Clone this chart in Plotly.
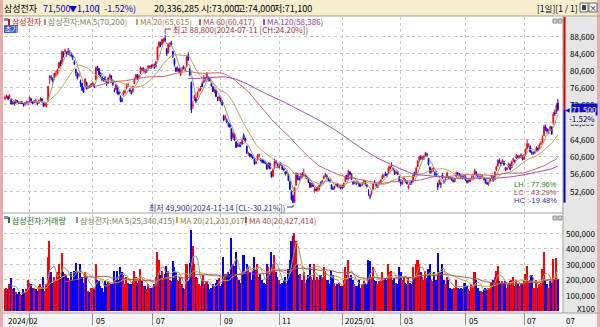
import plotly.graph_objects as go
import pandas as pd

# ---------------- DATA ----------------
# trading days per month, 2024-02 .. 2025-07
month_sizes = [16, 20, 21, 20, 19, 23, 21, 18, 20, 21, 20, 18, 20, 20, 22, 19, 19, 23]

# prices in units of 100 KRW
open_p = [
    741,745,745,745,738,730,733,730,736,731,731,733,729,730,730,734,
    737,740,732,731,736,731,730,738,740,731,724,726,737,790,790,786,790,797,800,812,
    825,822,845,850,845,850,846,842,838,825,808,797,795,780,776,765,770,778,767,768,770,
    774,773,785,815,810,800,790,787,790,780,776,790,793,783,760,762,770,755,745,737,
    750,755,765,772,762,755,756,776,790,795,790,800,810,808,805,804,810,813,817,
    818,818,815,830,862,870,868,875,880,855,848,865,870,850,832,812,808,810,795,806,813,810,815,
    842,810,778,725,740,742,745,760,762,775,778,788,790,790,785,775,768,758,760,740,740,
    740,733,700,695,690,680,680,670,650,658,640,630,633,634,635,655,648,630,
    612,612,607,605,600,590,598,608,600,598,595,592,588,580,590,570,560,580,595,588,
    580,590,585,578,570,568,565,548,525,515,500,540,566,555,555,565,562,560,560,555,545,
    538,540,525,530,528,530,545,545,555,562,560,555,550,540,532,533,538,542,535,537,
    535,535,548,562,555,570,565,548,545,545,548,545,540,540,545,548,540,525,
    515,520,530,548,543,535,541,548,555,561,565,565,568,578,585,578,573,568,568,558,
    546,543,553,551,548,533,543,548,548,568,568,583,598,605,601,603,608,611,601,581,
    571,573,565,568,543,543,543,563,548,553,558,558,558,556,551,548,561,568,565,563,558,558,
    560,550,548,552,555,558,565,570,562,558,556,560,555,553,545,543,548,558,558,
    552,574,584,597,592,592,594,580,577,582,587,580,597,597,602,607,605,607,607,
    600,610,625,632,630,615,614,615,620,625,625,635,640,655,675,670,665,668,675,685,708,710,730,
]
high_p = [
    748,750,748,751,741,735,735,739,737,735,734,735,730,733,736,735,
    745,741,734,737,740,733,738,744,742,733,731,730,769,795,795,790,800,805,810,826,
    830,852,850,857,850,858,853,848,842,830,810,802,800,785,777,768,788,780,771,772,777,
    780,775,815,817,812,801,792,788,793,782,790,798,795,785,765,775,772,758,748,743,
    760,762,776,776,765,760,770,790,798,797,797,815,813,814,810,810,818,818,820,
    822,822,828,862,874,873,880,882,888,858,870,872,875,852,835,815,815,812,812,815,818,815,842,
    848,812,780,735,750,745,757,765,770,780,795,790,802,792,790,778,770,764,762,745,748,
    744,735,703,703,695,686,684,672,664,660,642,638,638,640,648,660,650,632,
    617,614,612,609,601,597,612,613,602,600,598,596,590,593,592,572,578,601,598,590,
    590,593,587,580,572,575,567,550,528,518,535,570,568,560,568,570,578,565,562,557,547,
    545,545,535,535,536,541,548,552,562,568,565,557,553,542,537,538,545,544,540,539,
    540,546,562,564,575,572,567,550,550,549,550,547,543,546,553,550,542,530,
    520,527,545,551,545,541,549,553,565,565,571,568,583,585,593,581,575,573,571,561,
    553,551,560,553,550,541,548,551,565,571,583,598,608,610,608,609,617,615,603,583,
    578,581,571,573,546,553,548,568,553,556,571,561,560,558,553,556,571,570,568,565,560,565,
    562,552,553,553,562,565,578,572,565,560,562,564,558,554,548,548,556,563,560,
    572,584,599,602,594,600,596,582,582,592,590,597,604,599,612,610,609,614,608,
    612,625,645,637,632,620,618,620,630,628,636,642,655,680,680,672,670,678,676,710,715,730,740,
]
low_p = [
    737,741,737,740,727,727,724,729,730,728,728,728,722,724,727,725,
    732,730,727,730,732,725,729,735,732,722,722,720,735,775,783,778,785,792,795,810,
    815,820,836,845,838,842,840,836,830,818,793,785,790,768,758,755,768,762,763,765,767,
    770,765,783,805,795,790,781,780,780,770,775,787,782,770,755,760,750,748,732,732,
    748,752,762,768,755,750,755,775,785,784,787,798,804,803,798,800,808,810,810,
    813,810,812,828,858,860,865,870,872,840,846,860,862,835,815,802,803,800,793,803,808,805,814,
    828,792,707,717,735,730,743,755,758,768,776,780,788,780,780,768,756,753,744,735,735,
    732,724,688,690,683,674,672,642,648,643,626,628,628,628,633,645,640,612,
    608,604,604,600,587,588,597,604,595,590,590,588,575,578,576,557,558,578,588,580,
    578,585,575,572,562,565,549,528,504,499,499,538,551,550,553,557,560,555,554,545,533,
    534,535,522,525,525,527,538,543,553,558,555,548,545,530,528,530,536,535,532,530,
    530,534,546,552,553,562,551,540,542,540,543,535,535,538,543,538,534,515,
    507,516,528,543,536,533,539,545,553,556,561,558,566,573,581,573,563,565,563,546,
    538,541,551,545,541,530,540,541,546,559,566,581,593,598,598,598,606,605,585,566,
    568,570,561,561,528,539,533,553,543,548,556,553,553,550,546,546,558,563,561,555,553,556,
    550,543,545,546,553,555,563,561,557,553,554,558,550,543,540,538,546,555,548,
    551,572,582,590,584,589,585,572,574,580,574,579,592,590,600,602,602,605,597,
    598,608,622,628,615,610,610,612,618,618,623,632,638,653,665,660,658,665,656,680,700,705,711,
]
close_p = [
    743,747,740,748,728,730,728,738,733,730,731,729,728,729,732,734,
    744,732,729,736,733,729,736,741,733,723,728,728,769,793,789,782,799,798,808,824,
    820,850,841,853,845,845,846,841,837,822,800,789,796,776,761,755,786,763,767,767,775,
    776,767,813,813,797,792,784,783,782,774,789,796,783,774,759,772,752,752,735,735,
    757,757,774,773,757,752,769,786,796,786,793,812,810,811,805,806,816,816,815,
    818,812,826,860,871,864,878,878,876,844,867,867,867,839,820,804,808,804,809,810,812,811,839,
    831,796,714,725,747,734,755,760,765,768,790,786,799,783,783,770,757,759,745,740,744,
    735,726,691,698,686,680,675,646,660,644,627,632,631,632,645,647,642,615,
    613,606,606,603,589,593,608,610,597,592,592,590,577,591,578,559,576,596,592,583,
    587,587,576,575,566,570,550,530,506,499,535,567,553,553,564,560,563,563,556,546,535,
    541,537,530,528,534,539,542,549,560,565,560,549,549,531,530,535,544,536,536,532,
    534,544,559,554,573,565,553,543,547,545,547,537,539,543,550,540,537,524,
    514,523,543,547,538,538,546,551,561,561,563,563,580,583,586,576,566,569,566,548,
    543,549,556,548,543,538,542,545,563,563,579,595,605,603,603,606,614,610,588,569,
    573,579,564,564,535,551,542,556,547,553,568,556,557,552,548,554,568,566,565,557,556,562,
    552,546,550,549,558,560,574,563,560,556,560,561,553,545,543,545,554,560,549,
    570,582,597,594,590,598,587,576,578,590,576,594,600,596,608,604,606,610,600,
    608,623,636,633,617,614,614,616,626,622,633,637,650,675,670,665,666,675,659,704,706,726,715,
]
# volume in units of 100,000 shares
volume_p = [
    140,150,140,170,210,140,150,120,110,120,110,100,140,120,140,200,
    180,170,150,150,140,130,160,170,150,220,130,170,350,450,250,180,220,190,250,300,
    220,370,250,240,230,210,200,250,200,260,310,250,200,300,220,180,250,220,130,120,150,
    150,140,300,200,190,160,150,120,190,170,190,180,170,180,260,200,260,200,280,250,
    230,170,220,180,170,170,190,260,220,180,200,270,190,160,160,140,170,150,150,
    150,170,220,380,330,230,260,210,240,290,260,200,190,320,280,250,200,190,220,170,150,140,300,
    200,310,520,420,300,220,210,170,160,200,230,170,190,170,140,150,170,160,180,200,210,
    160,170,350,240,240,250,240,470,300,290,380,220,200,180,250,360,250,300,
    280,250,200,260,350,270,300,220,240,200,180,170,300,280,240,380,300,360,250,220,
    200,170,180,200,220,180,270,330,450,480,500,450,300,230,240,200,250,180,200,230,300,
    220,200,300,200,220,200,230,210,280,260,200,200,170,260,230,180,160,170,180,160,
    160,200,280,230,330,220,230,200,170,160,160,200,150,170,190,180,170,330,
    320,220,280,200,190,170,190,200,250,200,210,200,300,250,260,200,210,180,170,280,
    250,200,220,180,170,220,180,170,280,220,300,330,300,250,220,200,260,210,270,300,
    200,190,250,200,370,250,250,300,200,170,220,200,150,140,140,150,200,150,140,150,140,180,
    180,160,140,130,170,160,250,200,150,130,130,120,140,150,140,150,150,180,200,
    220,260,290,190,180,195,180,190,150,180,190,200,220,160,200,170,160,170,170,
    200,240,290,190,200,230,150,150,200,150,170,180,270,380,200,170,150,190,190,335,200,339,203.36,
]

price_ticks = [52600, 56600, 60600, 64600, 68600, 72600, 76600, 80600, 84600, 88600]
vol_ticks = [100000, 200000, 300000, 400000, 500000]
label_months = [0, 3, 5, 7, 9, 11, 13, 15, 17]
x_labels = ["2024/02", "05", "07", "09", "11", "2025/01", "03", "05", "07"]
grid_months = [1, 3, 5, 7, 9, 11, 13, 15, 17]

# ---------------- PREP ----------------
N = len(close_p)
xi = list(range(N))
O = [v * 100 for v in open_p]
H = [v * 100 for v in high_p]
Lw = [v * 100 for v in low_p]
C = [v * 100 for v in close_p]
V = [v * 1000 for v in volume_p]          # chart unit: x100 shares

starts = [0]
for s in month_sizes[:-1]:
    starts.append(starts[-1] + s)

cs = pd.Series(C)
vs = pd.Series(V)
ma = {n: cs.rolling(n).mean() for n in (5, 20, 60, 120)}
vma = {n: vs.rolling(n).mean() for n in (5, 20, 40)}

UP, DN = "#FF0000", "#0000FF"
vcol = []
for i in range(N):
    if C[i] > O[i]:
        vcol.append(UP)
    elif C[i] < O[i]:
        vcol.append(DN)
    else:
        vcol.append(UP if i == 0 or C[i] >= C[i - 1] else DN)

FONT = "Noto Sans CJK KR"
LAT = "Liberation Sans"
W_FIG, H_FIG = 600, 327
L, R, T, B = 4, 37, 17, 15
PW = W_FIG - L - R
PH = H_FIG - T - B


def px(x):
    return (x - L) / PW


def py(y):
    return (H_FIG - B - y) / PH


X0, X1 = -0.65, 362.3
P0, P1 = 47723, 93013
V0, V1 = -8000, 625000

MA5C, MA20C, MA60C, MA120C = "#9A9A78", "#C8A05A", "#C86464", "#A050B4"
VMA5C, VMA20C, VMA40C = "#9A9A78", "#D8A040", "#B05050"

fig = go.Figure()
fig.add_trace(go.Candlestick(
    x=xi, open=O, high=H, low=Lw, close=C, xaxis="x", yaxis="y",
    increasing=dict(line=dict(color=UP, width=1), fillcolor=UP),
    decreasing=dict(line=dict(color=DN, width=1), fillcolor=DN),
    whiskerwidth=0, hoverinfo="skip", showlegend=False))
for n, col in ((5, MA5C), (20, MA20C), (60, MA60C), (120, MA120C)):
    fig.add_trace(go.Scatter(x=xi, y=ma[n], mode="lines", line=dict(color=col, width=1),
                             xaxis="x", yaxis="y", hoverinfo="skip", showlegend=False))
fig.add_trace(go.Bar(x=xi, y=V, marker=dict(color=vcol, line=dict(width=0)),
                     xaxis="x", yaxis="y2", hoverinfo="skip", showlegend=False))
for n, col in ((5, VMA5C), (20, VMA20C), (40, VMA40C)):
    fig.add_trace(go.Scatter(x=xi, y=vma[n], mode="lines", line=dict(color=col, width=1),
                             xaxis="x", yaxis="y2", hoverinfo="skip", showlegend=False))

shapes = []


def rect(x0, y0, x1, y1, fill=None, line=None, lw=0, layer="below"):
    shapes.append(dict(type="rect", xref="paper", yref="paper", x0=px(x0), x1=px(x1),
                       y0=py(y1), y1=py(y0), fillcolor=fill, layer=layer,
                       line=dict(color=line or "rgba(0,0,0,0)", width=lw)))


def seg(x0, y0, x1, y1, color, lw=1, layer="above"):
    shapes.append(dict(type="line", xref="paper", yref="paper", x0=px(x0), x1=px(x1),
                       y0=py(y0), y1=py(y1), layer=layer, line=dict(color=color, width=lw)))


ann = []


def txt(x, y, s, color="#000000", size=8, anchor="left", bg=None, family=FONT):
    d = dict(xref="paper", yref="paper", x=px(x), y=py(y), text=s, showarrow=False,
             xanchor=anchor, yanchor="middle", borderpad=0,
             font=dict(family=family, size=size, color=color))
    if bg:
        d["bgcolor"] = bg
    ann.append(d)


def val_y(v):
    return 17 + (P1 - v) / (P1 - P0) * (212 - 17)


def vol_y(v):
    return 214 + (V1 - v) / (V1 - V0) * (312 - 214)


def idx_x(i):
    return L + (i - X0) / (X1 - X0) * PW


# backgrounds
rect(0, 0, 600, 16, fill="#F7EECF")
rect(563, 16, 600, 313, fill="#E6E6E6")
rect(0, 313, 600, 327, fill="#F4F4F4")
rect(0, 0, 3, 327, fill="#E8AEAE")
rect(597, 0, 600, 327, fill="#E8AEAE")
seg(0, 16, 600, 16, "#B0A080")
seg(3, 213, 563, 213, "#A0A0A0")
seg(3, 313, 600, 313, "#A0A0A0")
seg(563, 16, 563, 313, "#A0A0A0")

# header
HS = 9
txt(3, 8, "삼성전자", "#000000", HS)
txt(42, 8, "71,500", "#0000C8", HS)
txt(68, 8, "▼", "#0000C8", 8)
txt(76, 8, "1,100", "#0000C8", HS)
txt(96, 8, "(  -1.52%)", "#0000C8", HS)
txt(153, 8, "20,336,285", "#000000", HS)
txt(200, 8, "시:73,000", "#000000", HS)
txt(236, 8, "고:74,000", "#000000", HS)
txt(273, 8, "저:71,100", "#000000", HS)
txt(536, 8, "[1일][1 / 1]", "#000000", 8.5)
rect(580, 3, 588, 12, fill="#FFFFFF", line="#606060", lw=1, layer="above")
rect(589, 3, 597, 12, fill="#FFFFFF", line="#606060", lw=1, layer="above")
txt(593, 7.5, "×", "#000000", 8, anchor="center")
rect(582, 5, 586, 10, fill="#404040", layer="above")

# price legend
rect(4, 18, 8, 21, fill="#8090A0", layer="above")
rect(8, 19, 10, 25, fill="#FF0000", layer="above")
txt(11, 22, "삼성전자", "#FF0000", 8)
rect(44, 19, 46, 25, fill=MA5C, layer="above")
txt(47, 22, "삼성전자:MA 5(70,200)", "#808060", 8)
rect(136, 19, 138, 25, fill=MA20C, layer="above")
txt(139, 22, "MA 20(65,615)", "#A08040", 8)
rect(199, 19, 201, 25, fill=MA60C, layer="above")
txt(202, 22, "MA 60(60,417)", "#B04848", 8)
rect(263, 19, 265, 25, fill=MA120C, layer="above")
txt(266, 22, "MA 120(58,386)", "#9040A0", 8)
rect(4, 25, 18, 33, fill="#3C64C8", layer="above")
txt(11, 29, "초기", "#FFFFFF", 7, anchor="center")
rect(553, 19, 557, 23, fill="#D0D0D0", line="#909090", lw=1, layer="above")
rect(558, 19, 562, 23, fill="#D0D0D0", line="#909090", lw=1, layer="above")

# high / low annotations
hx = idx_x(104)
seg(hx, val_y(88800) - 1, hx, 29, "#A03030")
seg(hx, 29, hx + 6, 29, "#A03030")
txt(hx + 7, 29, "최고 88,800(2024-07-11 [CH:24.20%])", "#A03030", 8)
lx = idx_x(187)
seg(lx, val_y(49900) + 2, lx, 207, "#303090")
seg(lx - 6, 207, lx, 207, "#303090")
txt(lx - 7, 207, "최저 49,900(2024-11-14 [CL:-30.21%])", "#303090", 8, anchor="right")

# LH / LC / HC
for yy, lab, val, col in ((184, "LH", "77.96%", "#208020"), (192, "LC", "43.29%", "#B04040"),
                          (200, "HC", "-19.48%", "#303090")):
    txt(513, yy, lab, col, 7.5, family=LAT)
    txt(526, yy, ":", col, 7.5, family=LAT)
    txt(558, yy, val, col, 7.5, anchor="right", family=LAT)

# right price scale
for v in price_ticks:
    txt(596, val_y(v), f"{v:,}", "#000000", 8, anchor="right")
cy = val_y(71500)
seg(564.5, 17, 564.5, cy, "#E00000", lw=2)
seg(564.5, cy, 564.5, val_y(49900), "#0000C0", lw=2)
txt(571, cy, "71,500", "#FFFFFF", 8, anchor="left", bg="#1010C0")
txt(596, cy + 9, "-1.52%", "#000080", 8, anchor="right", bg="#E6E6E6")
txt(570.5, cy, "◀", "#0000C0", 5.5, anchor="right", family=LAT)

# volume legend
rect(4, 216, 8, 219, fill="#8090A0", layer="above")
rect(8, 217, 10, 223, fill="#208020", layer="above")
txt(11, 220, "삼성전자:거래량", "#207020", 8)
rect(76, 217, 78, 223, fill=VMA5C, layer="above")
txt(79, 220, "삼성전자:MA 5(25,340,415)", "#808060", 8)
rect(176, 217, 178, 223, fill=VMA20C, layer="above")
txt(179, 220, "MA 20(21,231,017)", "#A08040", 8)
rect(245, 217, 247, 223, fill=VMA40C, layer="above")
txt(248, 220, "MA 40(20,427,414)", "#B04848", 8)
rect(553, 216, 557, 220, fill="#D0D0D0", line="#909090", lw=1, layer="above")
rect(558, 216, 562, 220, fill="#D0D0D0", line="#909090", lw=1, layer="above")

for v in vol_ticks:
    txt(596, vol_y(v), f"{v:,}", "#000000", 8, anchor="right")
txt(596, 308, "X100", "#000000", 8, anchor="right")

# x labels
for m, lab in zip(label_months, x_labels):
    txt(idx_x(starts[m]) + 2, 320, lab, "#000000", 8)
txt(565, 320, "07", "#000000", 8)

GRID = "#C8C8C8"
fig.update_layout(
    width=W_FIG, height=H_FIG, margin=dict(l=L, r=R, t=T, b=B, pad=0),
    paper_bgcolor="#FFFFFF", plot_bgcolor="#FFFFFF", showlegend=False,
    bargap=0, shapes=shapes, annotations=ann, hovermode=False,
    font=dict(family=FONT, size=8),
    xaxis=dict(domain=[0, 1], anchor="y2", range=[X0, X1], showticklabels=False,
               tickvals=[starts[m] for m in grid_months], ticks="outside", ticklen=12,
               tickcolor="#909090", showgrid=True, gridcolor=GRID, griddash="dot",
               gridwidth=1, zeroline=False, showline=False, rangeslider=dict(visible=False)),
    yaxis=dict(domain=[py(212), 1], range=[P0, P1], side="right", showticklabels=False,
               tickvals=price_ticks, showgrid=True, gridcolor=GRID, griddash="dot",
               zeroline=False, showline=False, ticks=""),
    yaxis2=dict(domain=[0, py(214)], range=[V0, V1], side="right", showticklabels=False,
                tickvals=vol_ticks, showgrid=True, gridcolor=GRID, griddash="dot",
                zeroline=False, showline=False, ticks=""),
)
fig.write_html("out.html")
